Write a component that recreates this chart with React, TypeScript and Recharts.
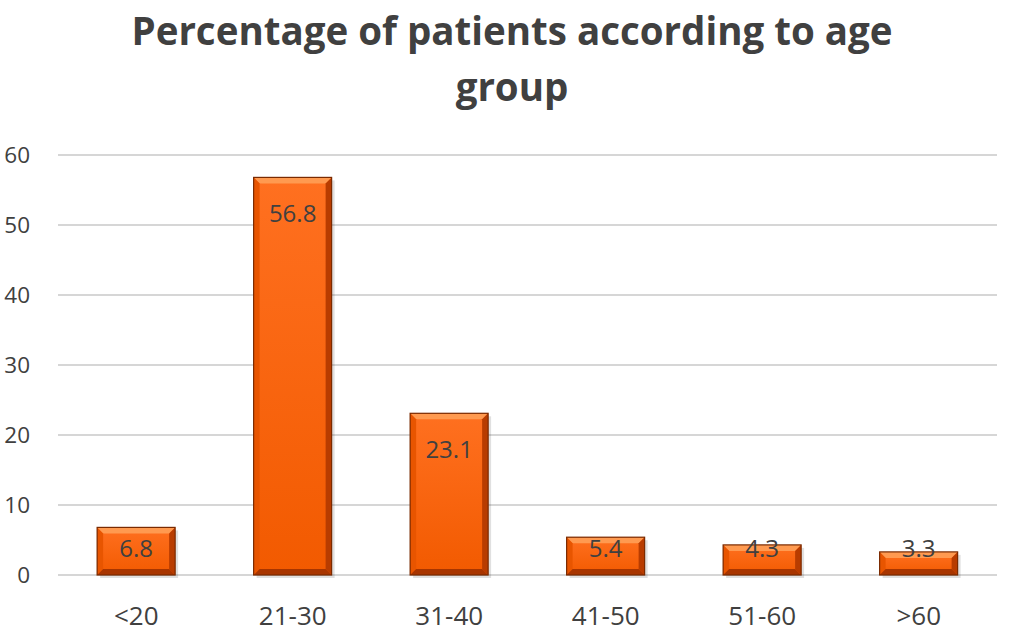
import React from 'react';
import { BarChart, Bar, XAxis, YAxis, CartesianGrid, LabelList } from 'recharts';

// Percentage of patients by age group
const AGE_GROUPS = ['<20', '21-30', '31-40', '41-50', '51-60', '>60'];
const PERCENTAGES = [6.8, 56.8, 23.1, 5.4, 4.3, 3.3];
const Y_TICKS = [0, 10, 20, 30, 40, 50, 60];

const chartData = AGE_GROUPS.map((group, i) => ({ group, value: PERCENTAGES[i] }));

const FONT = '"Open Sans", sans-serif';
const TEXT = '#404040';

// bevelled orange bar, a bit like the Office preset
const BevelBar = (props: any) => {
  const { x, y, width, height } = props;
  if (!height || height <= 0) return null;
  const b = Math.min(6, height / 3);
  return (
    <g>
      <rect x={x + 3} y={y + 3} width={width} height={height} fill="#000" opacity={0.12} />
      <rect x={x} y={y} width={width} height={height} fill="url(#barFace)" />
      {/* top bevel */}
      <polygon
        points={`${x},${y} ${x + width},${y} ${x + width - b},${y + b} ${x + b},${y + b}`}
        fill="#ff9a50"
      />
      {/* left / right bevels */}
      <polygon
        points={`${x},${y} ${x + b},${y + b} ${x + b},${y + height - b} ${x},${y + height}`}
        fill="#e85500"
      />
      <polygon
        points={`${x + width},${y} ${x + width - b},${y + b} ${x + width - b},${y + height - b} ${x + width},${y + height}`}
        fill="#b83c00"
      />
      {/* bottom bevel */}
      <polygon
        points={`${x},${y + height} ${x + b},${y + height - b} ${x + width - b},${y + height - b} ${x + width},${y + height}`}
        fill="#a83500"
      />
      <rect x={x} y={y} width={width} height={height} fill="none" stroke="#7a2a00" strokeWidth={1.2} />
    </g>
  );
};

const InsideLabel = (props: any) => {
  const { x, y, width, height, value } = props;
  const cy = height > 80 ? y + 35 : Math.min(y + height / 2 - 4, 547);
  return (
    <text
      x={x + width / 2}
      y={cy}
      textAnchor="middle"
      dominantBaseline="central"
      fontFamily={FONT}
      fontSize={24}
      fill={TEXT}
    >
      {value}
    </text>
  );
};

export default function App() {
  return (
    <div style={{ position: 'absolute', left: 0, top: 0, width: 1024, height: 638, background: '#fff' }}>
      <div
        style={{
          position: 'absolute',
          left: 0,
          top: 2,
          width: 1024,
          textAlign: 'center',
          fontFamily: FONT,
          fontWeight: 700,
          fontSize: 38.5,
          lineHeight: '56px',
          color: TEXT,
        }}
      >
        Percentage of patients according to age
        <br />
        group
      </div>
      <BarChart
        width={1024}
        height={638}
        data={chartData}
        margin={{ top: 155, right: 27, bottom: 0, left: 0 }}
        barCategoryGap="25%"
      >
        <defs>
          <linearGradient id="barFace" x1="0" y1="0" x2="0" y2="1">
            <stop offset="0%" stopColor="#ff7020" />
            <stop offset="100%" stopColor="#f25a00" />
          </linearGradient>
        </defs>
        <CartesianGrid vertical={false} stroke="#c8c8c8" strokeWidth={1.5} />
        <XAxis
          dataKey="group"
          height={63}
          axisLine={false}
          tickLine={false}
          tick={{ fontFamily: FONT, fontSize: 26, fill: TEXT }}
          tickMargin={26}
        />
        <YAxis
          width={58}
          domain={[0, 60]}
          ticks={Y_TICKS}
          axisLine={false}
          tickLine={false}
          tick={{ fontFamily: FONT, fontSize: 22.5, fill: TEXT, textAnchor: 'end' }}
          tickMargin={22}
        />
        <Bar dataKey="value" shape={<BevelBar />} isAnimationActive={false}>
          <LabelList dataKey="value" content={<InsideLabel />} />
        </Bar>
      </BarChart>
    </div>
  );
}
